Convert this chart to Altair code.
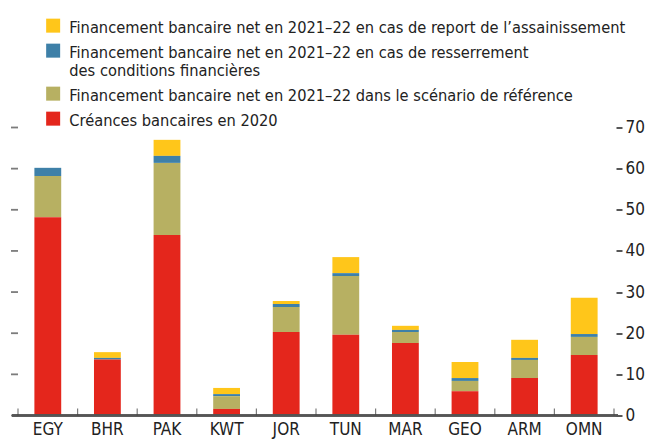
import altair as alt
import pandas as pd

countries = ["EGY", "BHR", "PAK", "KWT", "JOR", "TUN", "MAR", "GEO", "ARM", "OMN"]
creances_2020 = [48.2, 13.6, 43.9, 1.6, 20.3, 19.6, 17.6, 5.9, 9.1, 14.7]
scenario_reference = [10.0, 0.0, 17.5, 3.1, 6.1, 14.3, 2.7, 2.5, 4.4, 4.4]
resserrement = [2.0, 0.4, 1.7, 0.5, 0.7, 0.7, 0.5, 0.7, 0.5, 0.7]
report_assainissement = [0.0, 1.4, 3.9, 1.5, 0.7, 3.9, 1.0, 3.9, 4.4, 8.8]

series_labels = [
    "Financement bancaire net en 2021–22 en cas de report de l’assainissement",
    "Financement bancaire net en 2021–22 en cas de resserrement|des conditions financières",
    "Financement bancaire net en 2021–22 dans le scénario de référence",
    "Créances bancaires en 2020",
]
series_values = [report_assainissement, resserrement, scenario_reference, creances_2020]
stack_index = [3, 2, 1, 0]
colors = ["#FFC61A", "#3E80A8", "#B7B062", "#E4261C"]
y_ticks = [0, 10, 20, 30, 40, 50, 60, 70]

rows = []
for label, vals, idx in zip(series_labels, series_values, stack_index):
    for c, v in zip(countries, vals):
        rows.append({"country": c, "series": label, "value": v, "stack_idx": idx})
df = pd.DataFrame(rows)
cat_df = pd.DataFrame({"country": countries})
last_df = pd.DataFrame({"country": countries[-1:]})
ytick_df = pd.DataFrame({"v": y_ticks})

FONT = "Liberation Sans Narrow, Arial Narrow, DejaVu Sans Condensed, sans-serif"
W, H = 596, 288
PAD_INNER, PAD_OUTER = 0.55, 0.275
STEP = W / (len(countries) - PAD_INNER + 2 * PAD_OUTER)
HALF_GAP = STEP * PAD_INNER / 2

x_scale = alt.Scale(domain=countries, paddingInner=PAD_INNER, paddingOuter=PAD_OUTER)
y_scale = alt.Scale(domain=[0, 70], nice=False)
x_enc = alt.X(
    "country:N", sort=countries, scale=x_scale,
    axis=alt.Axis(orient="bottom", title=None, labelAngle=0, ticks=False,
                  domain=False, labelFontSize=17, labelPadding=6,
                  labelFont=FONT, labelColor="#222222"),
)

bars = alt.Chart(df).mark_bar().encode(
    x=x_enc,
    y=alt.Y(
        "value:Q", stack="zero", scale=y_scale,
        axis=alt.Axis(orient="right", title=None, values=y_ticks, grid=False,
                      domain=False, tickSize=6, tickWidth=1.8, offset=2,
                      labelPadding=3, tickColor="#444444", labelFontSize=17,
                      labelFont=FONT, labelColor="#222222"),
    ),
    color=alt.Color(
        "series:N",
        scale=alt.Scale(domain=series_labels, range=colors),
        legend=alt.Legend(
            orient="none", legendX=27, legendY=-103, title=None, padding=0,
            symbolType="M-1,-2H1V0H-1Z", symbolSize=196, symbolStrokeWidth=0,
            symbolOpacity=1, labelBaseline="alphabetic", labelFontSize=16.3,
            labelFont=FONT, labelColor="#222222", labelLimit=1000,
            labelOffset=8, rowPadding=7,
            labelExpr="split(datum.label, '|')",
        ),
    ),
    order=alt.Order("stack_idx:Q", sort="ascending"),
)

# left-hand tick marks (no labels)
left_ticks = alt.Chart(ytick_df).mark_tick(
    orient="horizontal", size=7, thickness=1.8, color="#444444"
).encode(
    y=alt.Y("v:Q", scale=y_scale),
    x=alt.value(-3.5),
)

# baseline
baseline = alt.Chart(cat_df).mark_rule(color="#555555", strokeWidth=1.5).encode(
    x=alt.value(-6), x2=alt.value(W + 4), y=alt.datum(0, scale=y_scale)
)

# inward category separators
sep_ticks = alt.Chart(cat_df).mark_tick(
    orient="vertical", size=7, thickness=1.2, color="#444444", xOffset=-HALF_GAP, yOffset=-3.5
).encode(
    x=alt.X("country:N", sort=countries, scale=x_scale, bandPosition=0),
    y=alt.datum(0, scale=y_scale),
)
end_tick = alt.Chart(last_df).mark_tick(
    orient="vertical", size=7, thickness=1.2, color="#444444", xOffset=HALF_GAP, yOffset=-3.5
).encode(
    x=alt.X("country:N", sort=countries, scale=x_scale, bandPosition=1),
    y=alt.datum(0, scale=y_scale),
)

chart = alt.layer(bars, left_ticks, baseline, sep_ticks, end_tick).properties(
    width=W, height=H, autosize="none", background="white",
    padding={"left": 10, "top": 119.5, "right": 31, "bottom": 24},
).configure_axis(domain=False, grid=False).configure_view(stroke=None)

chart.save("out.html", embed_options={"renderer": "svg", "actions": False})
